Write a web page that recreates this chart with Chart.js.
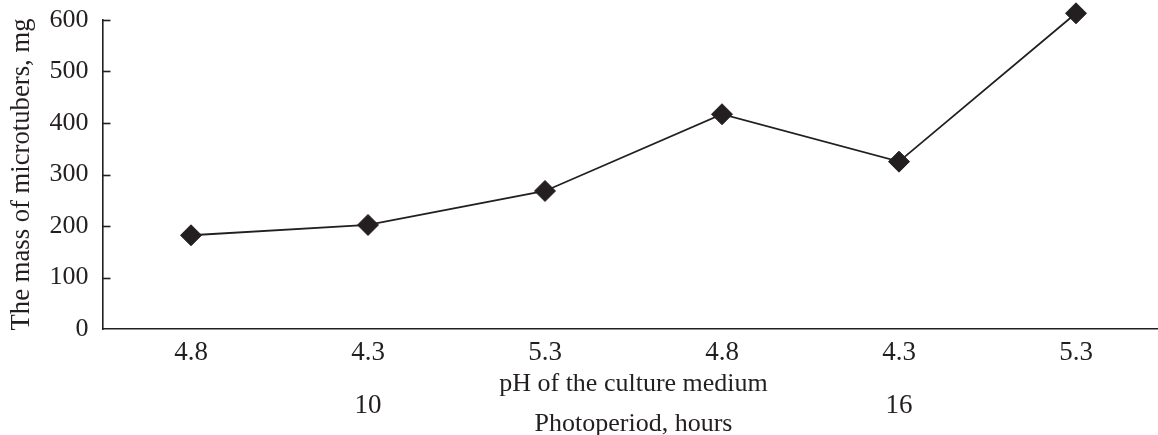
<!DOCTYPE html>
<html><head><meta charset="utf-8">
<script src="https://cdn.jsdelivr.net/npm/chart.js@4.4.1/dist/chart.umd.min.js"></script>
<style>html,body{margin:0;padding:0;background:#fff;overflow:hidden}#c{display:block}</style>
</head><body><canvas id="c" width="1176" height="435"></canvas>
<script>
const phLabels = ['4.8', '4.3', '5.3', '4.8', '4.3', '5.3'];
const photoperiodLabels = ['', '10', '', '', '16', ''];
const massValues = [182, 202, 268, 417, 325, 613];
const yTickValues = [0, 100, 200, 300, 400, 500, 600];
const yTitle = 'The mass of microtubers, mg';
const xTitle = 'pH of the culture medium';
const x2Title = 'Photoperiod, hours';

const INK = '#231f20';
const FONT = '"Liberation Serif", "Times New Roman", serif';

const inwardTicks = {
  id: 'inwardTicks',
  afterDraw(chart) {
    const y = chart.scales.y, ctx = chart.ctx, left = chart.chartArea.left;
    ctx.save();
    ctx.strokeStyle = INK;
    ctx.lineWidth = 1.6;
    yTickValues.forEach(v => {
      if (v === 0) return;
      const py = Math.round(y.getPixelForValue(v)) + 0.5;
      ctx.beginPath();
      ctx.moveTo(left, py);
      ctx.lineTo(left + 8, py);
      ctx.stroke();
    });
    ctx.restore();
  }
};

function noPad(s) { s.paddingTop = 0; s.paddingBottom = 0; s.paddingLeft = 0; s.paddingRight = 0; }

new Chart(document.getElementById('c'), {
  type: 'line',
  data: {
    labels: phLabels,
    datasets: [{
      data: massValues,
      borderColor: INK,
      backgroundColor: INK,
      borderWidth: 1.8,
      pointStyle: 'rectRot',
      pointRadius: 10.5,
      pointBorderWidth: 1,
      pointBackgroundColor: INK,
      pointBorderColor: INK,
      tension: 0,
      clip: false,
      xAxisID: 'x',
      yAxisID: 'y'
    }]
  },
  options: {
    responsive: false,
    maintainAspectRatio: false,
    animation: false,
    events: [],
    layout: { padding: { top: 20, right: 2.3, left: 0, bottom: 0 } },
    plugins: { legend: { display: false }, tooltip: { enabled: false } },
    scales: {
      x: {
        type: 'category',
        position: 'bottom',
        offset: true,
        grid: { display: false, drawTicks: false },
        border: { display: true, color: INK, width: 1.6 },
        ticks: { color: INK, font: { family: FONT, size: 27, lineHeight: 0.8 }, padding: 13, maxRotation: 0, autoSkip: false },
        title: { display: true, text: xTitle, color: INK, font: { family: FONT, size: 26, lineHeight: 0.8 }, padding: { top: 0, bottom: -2 } },
        afterFit(s) { s.height = 64; noPad(s); }
      },
      x2: {
        type: 'category',
        position: 'bottom',
        labels: photoperiodLabels,
        offset: true,
        grid: { display: false, drawTicks: false },
        border: { display: false },
        ticks: { color: INK, font: { family: FONT, size: 27, lineHeight: 0.8 }, padding: 2, maxRotation: 0, autoSkip: false },
        title: { display: true, text: x2Title, color: INK, font: { family: FONT, size: 26, lineHeight: 0.8 }, padding: { top: 0, bottom: 0 } },
        afterFit(s) { s.height = 42; noPad(s); }
      },
      y: {
        min: 0,
        max: 600,
        grid: { display: false, drawTicks: false },
        border: { display: true, color: INK, width: 1.6 },
        ticks: { stepSize: 100, color: INK, font: { family: FONT, size: 26 }, padding: 14 },
        title: { display: true, text: yTitle, color: INK, font: { family: FONT, size: 26.7, lineHeight: 1 }, padding: { top: 9, bottom: 0 } },
        afterFit(s) { s.width = 102.5; noPad(s); }
      }
    }
  },
  plugins: [inwardTicks]
});
</script>
</body></html>
